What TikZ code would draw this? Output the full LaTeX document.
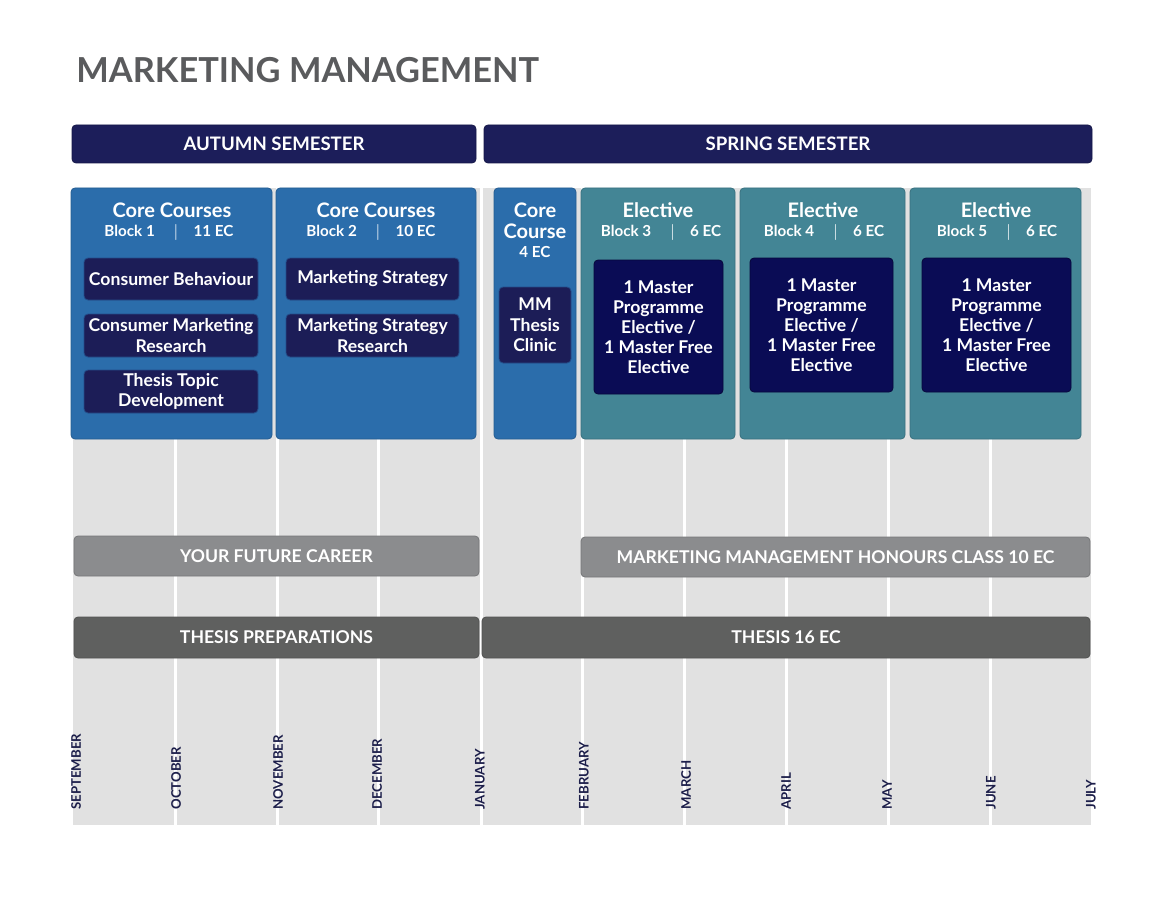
\documentclass[tikz,border=0pt]{standalone}
\usepackage{fontspec}
\setmainfont{Lato}
\usepackage{tikz}

\definecolor{titlegray}{HTML}{5A5B5D}
\definecolor{semnavy}{HTML}{1C1E5A}
\definecolor{coreblue}{HTML}{2B6DAB}
\definecolor{electeal}{HTML}{438595}
\definecolor{courseink}{HTML}{1C1D57}
\definecolor{electink}{HTML}{0A0C55}
\definecolor{careergray}{HTML}{8B8C8E}
\definecolor{thesisgray}{HTML}{5F605F}
\definecolor{monthink}{HTML}{1C1E4A}
\definecolor{gridgray}{HTML}{E1E1E1}

\begin{document}
\begin{tikzpicture}[x=0.5pt, y=-0.5pt,
    semester/.style={fill=semnavy, draw=semnavy!80!black, rounded corners=2pt, text=white,
        font=\bfseries\fontsize{9.3}{11}\selectfont, inner sep=0pt},
    block/.style={draw=#1!85!black, fill=#1, rounded corners=2pt, inner sep=0pt},
    course/.style={fill=courseink, draw=coreblue!60!courseink, rounded corners=2pt, text=white,
        font=\bfseries\fontsize{8.8}{10.2}\selectfont, align=center, inner sep=0pt},
    elective/.style={fill=electink, draw=electink!70!black, rounded corners=2pt, text=white,
        font=\bfseries\fontsize{8.8}{10}\selectfont, align=center, inner sep=0pt},
    head/.style={text=white, font=\bfseries\fontsize{10}{10.5}\selectfont, inner sep=0pt},
    subhead/.style={text=white, font=\bfseries\fontsize{7.6}{9}\selectfont, inner sep=0pt},
    track/.style={fill=#1, draw=#1!85!black, rounded corners=2pt, text=white,
        font=\bfseries\fontsize{8.8}{10}\selectfont, inner sep=0pt},
    month/.style={rotate=90, anchor=west, text=monthink, font=\bfseries\fontsize{6.6}{7}\selectfont, inner sep=0pt}]

            \useasboundingbox (0,0) rectangle (1170,909);
            %
            \fill[gridgray] (73,188) rectangle (1091,825);
            \draw[white, line width=1.5pt] (175,188) -- (175,825);
            \draw[white, line width=1.5pt] (277,188) -- (277,825);
            \draw[white, line width=1.5pt] (378,188) -- (378,825);
            \draw[white, line width=1.5pt] (481,188) -- (481,825);
            \draw[white, line width=1.5pt] (582,188) -- (582,825);
            \draw[white, line width=1.5pt] (684,188) -- (684,825);
            \draw[white, line width=1.5pt] (786,188) -- (786,825);
            \draw[white, line width=1.5pt] (888,188) -- (888,825);
            \draw[white, line width=1.5pt] (990,188) -- (990,825);
            %
            \node[anchor=west, text=titlegray, font=\bfseries\fontsize{17.2}{20}\selectfont, inner sep=0pt] (title) at (76,70) {MARKETING MANAGEMENT};
            %
            \node[semester, minimum width=202pt, minimum height=19pt] (autumn) at (274,144) {AUTUMN SEMESTER};
            \node[semester, minimum width=304pt, minimum height=19pt] (spring) at (788,144) {SPRING SEMESTER};
            %
            \node[block=coreblue, minimum width=100.5pt, minimum height=125.5pt] (core1) at (171.5,313.5) {};
            \node[block=coreblue, minimum width=100pt, minimum height=125.5pt] (core2) at (376,313.5) {};
            \node[block=coreblue, minimum width=41pt, minimum height=125.5pt] (core3) at (535,313.5) {};
            \node[block=electeal, minimum width=77pt, minimum height=125.5pt] (elec3) at (658,313.5) {};
            \node[block=electeal, minimum width=82.5pt, minimum height=125.5pt] (elec4) at (822.5,313.5) {};
            \node[block=electeal, minimum width=85.5pt, minimum height=125.5pt] (elec5) at (995.5,313.5) {};
            %
            \node[head] (core1h) at (172,210) {Core Courses};
            \node[subhead] (core1s) at (169,232) {Block 1 \quad$|$\quad 11 EC};
            \node[head] (core2h) at (376,210) {Core Courses};
            \node[subhead] (core2s) at (371,232) {Block 2 \quad$|$\quad 10 EC};
            \node[head] (core3h) at (535,210) {Core};
            \node[head] (core3c) at (535,231) {Course};
            \node[subhead] (core3s) at (535,252) {4 EC};
            \node[head] (elec3h) at (658,210) {Elective};
            \node[subhead] (elec3s) at (661,232) {Block 3 \quad$|$\quad 6 EC};
            \node[head] (elec4h) at (823,210) {Elective};
            \node[subhead] (elec4s) at (824,232) {Block 4 \quad$|$\quad 6 EC};
            \node[head] (elec5h) at (996,210) {Elective};
            \node[subhead] (elec5s) at (997,232) {Block 5 \quad$|$\quad 6 EC};
            %
            \node[course, minimum width=87pt, minimum height=21pt] (behaviour) at (171,279) {Consumer Behaviour};
            \node[course, minimum width=87pt, minimum height=21.5pt] (cmresearch) at (171,335.5) {Consumer Marketing\\Research};
            \node[course, minimum width=87pt, minimum height=21.5pt] (topic) at (171,391.5) {Thesis Topic\\Development};
            \node[course, minimum width=86.5pt, minimum height=21pt] (strategy) at (372.5,279) {Marketing Strategy};
            \node[course, minimum width=86.5pt, minimum height=21.5pt] (msresearch) at (372.5,335.5) {Marketing Strategy\\Research};
            \node[course, minimum width=36pt, minimum height=38pt] (clinic) at (535,325) {MM\\Thesis\\Clinic};
            %
            \node[elective, minimum width=64.5pt, minimum height=67pt] (free3) at (658.5,327) {1 Master\\Programme\\Elective /\\1 Master Free\\Elective};
            \node[elective, minimum width=71.5pt, minimum height=67pt] (free4) at (821.5,325) {1 Master\\Programme\\Elective /\\1 Master Free\\Elective};
            \node[elective, minimum width=74.5pt, minimum height=67pt] (free5) at (996.5,325) {1 Master\\Programme\\Elective /\\1 Master Free\\Elective};
            %
            \node[track=careergray, minimum width=202.5pt, minimum height=20pt] (career) at (276.5,556) {YOUR FUTURE CAREER};
            \node[track=careergray, minimum width=254.5pt, minimum height=20pt] (honours) at (835.5,557) {MARKETING MANAGEMENT HONOURS CLASS 10 EC};
            \node[track=thesisgray, minimum width=202.5pt, minimum height=20.5pt] (prep) at (276.5,637.5) {THESIS PREPARATIONS};
            \node[track=thesisgray, minimum width=304pt, minimum height=20.5pt] (thesis) at (786,637.5) {THESIS 16 EC};
            %
            \node[month] (sep) at (76,810) {SEPTEMBER};
            \node[month] (oct) at (176,810) {OCTOBER};
            \node[month] (nov) at (278,810) {NOVEMBER};
            \node[month] (dec) at (377,810) {DECEMBER};
            \node[month] (jan) at (480,810) {JANUARY};
            \node[month] (feb) at (584,810) {FEBRUARY};
            \node[month] (mar) at (686,810) {MARCH};
            \node[month] (apr) at (786,810) {APRIL};
            \node[month] (may) at (887,810) {MAY};
            \node[month] (jun) at (991,810) {JUNE};
            \node[month] (jul) at (1091,810) {JULY};
        \end{tikzpicture}
\end{document}
